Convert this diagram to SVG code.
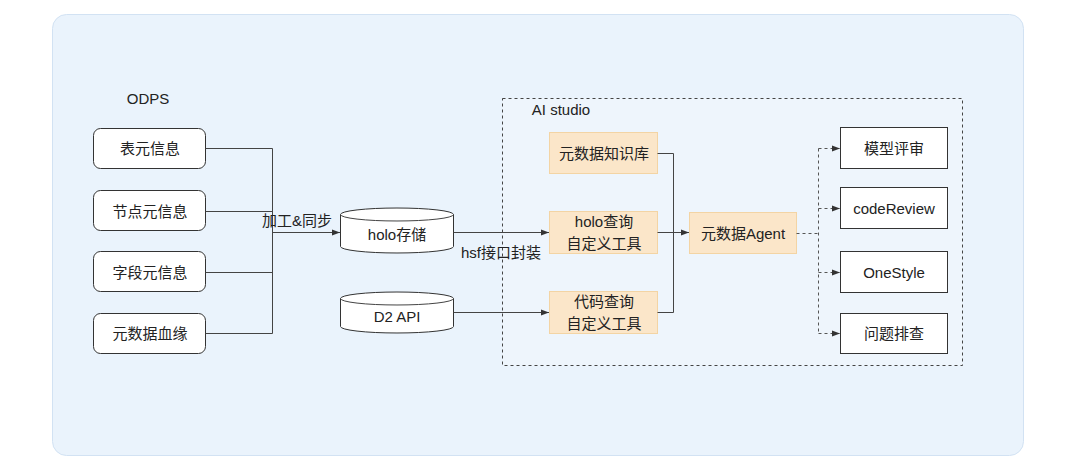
<svg xmlns="http://www.w3.org/2000/svg" width="1080" height="469" viewBox="0 0 1080 469">
<style>
text{font-family:"Liberation Sans","Noto Sans CJK SC",sans-serif;font-size:15px;fill:#222;text-anchor:middle;dominant-baseline:central}
.rb{fill:#fff;stroke:#333;stroke-width:1}
.ob{fill:#fbe6c9;stroke:#f3d4a4;stroke-width:1}
.ln{fill:none;stroke:#444;stroke-width:1}
.dl{fill:none;stroke:#555;stroke-width:1;stroke-dasharray:3 3}
</style>
<defs>
<marker id="ar" viewBox="0 0 8 8" refX="8" refY="4" markerWidth="8" markerHeight="8" orient="auto" markerUnits="userSpaceOnUse">
<path d="M0,1 L8,4 L0,7 Z" fill="#333"/>
</marker>
</defs>
<rect x="52.5" y="14.5" width="971" height="441" rx="14" fill="#eaf3fc" stroke="#d2e2f3"/>
<text x="148" y="98">ODPS</text>
<g id="ai-studio">
<rect x="502.5" y="98.5" width="460" height="267" fill="#fff" fill-opacity="0.2" stroke="#444" stroke-dasharray="3 3"/>
<text x="561" y="109">AI studio</text>
</g>
<g id="n-biao"><rect class="rb" x="93.5" y="128.5" width="112" height="40" rx="7"/><text x="150" y="148">表元信息</text></g>
<g id="n-jiedian"><rect class="rb" x="93.5" y="190.5" width="112" height="40" rx="7"/><text x="150" y="211">节点元信息</text></g>
<g id="n-ziduan"><rect class="rb" x="93.5" y="251.5" width="112" height="40" rx="7"/><text x="150" y="272">字段元信息</text></g>
<g id="n-xueyuan"><rect class="rb" x="93.5" y="313.5" width="112" height="40" rx="7"/><text x="150" y="333">元数据血缘</text></g>
<g id="n-holo">
<path class="rb" d="M340.5,214.5 A56.5,6.5 0 0 1 453.5,214.5 L453.5,246.5 A56.5,6.5 0 0 1 340.5,246.5 Z"/>
<path class="ln" d="M340.5,214.5 A56.5,6.5 0 0 0 453.5,214.5" stroke="#333"/>
<text x="397" y="234">holo存储</text>
</g>
<g id="n-d2">
<path class="rb" d="M340.5,298.5 A56.5,6.5 0 0 1 453.5,298.5 L453.5,326.5 A56.5,6.5 0 0 1 340.5,326.5 Z"/>
<path class="ln" d="M340.5,298.5 A56.5,6.5 0 0 0 453.5,298.5" stroke="#333"/>
<text x="397" y="316">D2 API</text>
</g>
<g id="n-kb"><rect class="ob" x="549.5" y="132.5" width="108" height="41"/><text x="604" y="153">元数据知识库</text></g>
<g id="n-holoq"><rect class="ob" x="549.5" y="211.5" width="108" height="42"/><text x="604" y="221">holo查询</text><text x="604" y="243">自定义工具</text></g>
<g id="n-codeq"><rect class="ob" x="549.5" y="291.5" width="108" height="42"/><text x="604" y="301">代码查询</text><text x="604" y="323">自定义工具</text></g>
<g id="n-agent"><rect class="ob" x="689.5" y="212.5" width="107" height="41"/><text x="743" y="233">元数据Agent</text></g>
<g id="n-model"><rect class="rb" x="840.5" y="127.5" width="107" height="41"/><text x="894" y="148">模型评审</text></g>
<g id="n-cr"><rect class="rb" x="840.5" y="187.5" width="107" height="41"/><text x="894" y="208">codeReview</text></g>
<g id="n-os"><rect class="rb" x="840.5" y="251.5" width="107" height="41"/><text x="894" y="272">OneStyle</text></g>
<g id="n-wt"><rect class="rb" x="840.5" y="313.5" width="107" height="40"/><text x="894" y="333">问题排查</text></g>
<g id="connectors">
<path class="ln" d="M205.5,148.5 H272.5 V333.5 H205.5 M205.5,211.5 H272.5 M205.5,272.5 H272.5"/>
<path class="ln" d="M272.5,232.5 H340" marker-end="url(#ar)"/>
<text x="297" y="220">加工&amp;同步</text>
<path class="ln" d="M453.5,232.5 H549" marker-end="url(#ar)"/>
<text x="501" y="252">hsf接口封装</text>
<path class="ln" d="M453.5,312.5 H549" marker-end="url(#ar)"/>
<path class="ln" d="M657.5,153.5 H673.5 V312.5 H657.5"/>
<path class="ln" d="M657.5,232.5 H689" marker-end="url(#ar)"/>
<path class="dl" d="M796.5,233.5 H818.5"/>
<path class="dl" d="M818.5,148.5 V333.5"/>
<path class="dl" d="M818.5,148.5 H840" marker-end="url(#ar)"/>
<path class="dl" d="M818.5,208.5 H840" marker-end="url(#ar)"/>
<path class="dl" d="M818.5,272.5 H840" marker-end="url(#ar)"/>
<path class="dl" d="M818.5,333.5 H840" marker-end="url(#ar)"/>
</g>
</svg>
